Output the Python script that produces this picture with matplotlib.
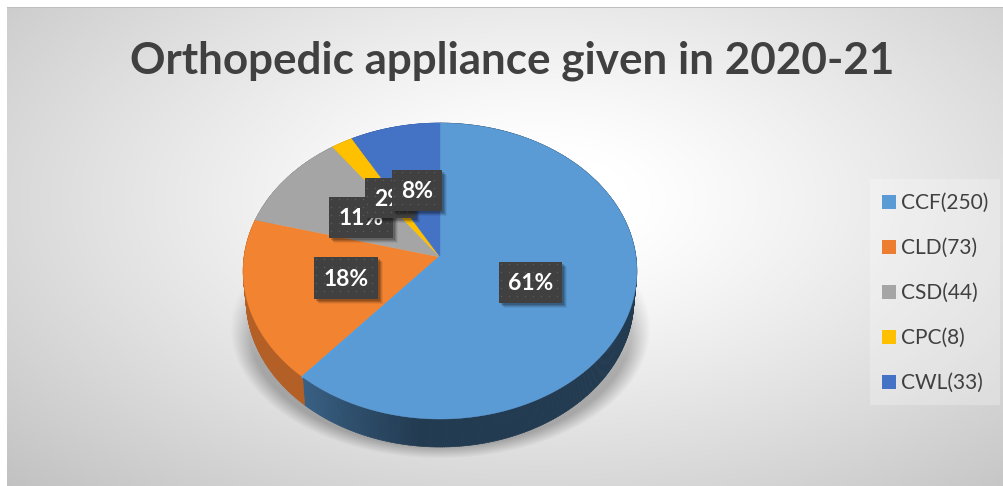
import numpy as np
import matplotlib
matplotlib.use('Agg')
import matplotlib.pyplot as plt
from matplotlib.patches import Rectangle

categories = ['CCF(250)', 'CLD(73)', 'CSD(44)', 'CPC(8)', 'CWL(33)']
counts = [250, 73, 44, 8, 33]
pct_labels = ['61%', '18%', '11%', '2%', '8%']
colors = ['#5b9bd5', '#ed7d31', '#a5a5a5', '#ffc000', '#4472c4']
top_colors = ['#5b9bd5', '#f18331', '#a5a5a5', '#ffc000', '#4472c4']
title = 'Orthopedic appliance given in 2020-21'

W, H = 1004, 486
CX, CY = 440, 257
A, B, K = 196, 146.7, 0.0946
DEPTH = 28
# label boxes, pixel centre and size
box_pos = [(530.5, 282.5, 63, 41), (346, 278, 64, 42), (361, 217.5, 64, 41),
           (390, 198, 50, 40), (417, 190.5, 50, 41)]

plt.rcParams['font.family'] = ['Lato', 'DejaVu Sans']


# tilted pie: unit circle angle (clockwise from 12 o'clock) to pixels
def project(t):
    x, y = np.sin(t), np.cos(t)
    d = 1 + K * y
    return CX + A * x / d, CY - B * y / d


def project_low(t):
    x, y = project(t)
    return CX + (x - CX) * 0.985, y + DEPTH


def background():
    yy, xx = np.mgrid[0:H, 0:W]
    t = np.hypot((xx - 540) / 540, (yy - 200) / 285) / np.sqrt(2)
    v = 255 - 62 * np.clip((t - 0.12) / 0.88, 0, 1) ** 1.15
    # soft shadow under the pie
    r = np.hypot((xx - CX) / 210, (yy - 328) / 130)
    s = np.clip((1.0 - r) / 0.09, 0, 1)
    s = s * np.clip((yy - 240) / 120, 0, 1)
    s[yy > 458] = 0
    v = v * (1 - 0.27 * s)
    img = np.dstack([v, v, v]) / 255
    img[:8, :] = 1
    img[8, :] = 0.75
    img[:, :7] = 1
    return img


def shade(hex_col, f):
    return tuple(np.array(matplotlib.colors.to_rgb(hex_col)) * f)


fig = plt.figure(figsize=(W / 100, H / 100), dpi=100)
ax = fig.add_axes([0, 0, 1, 1])
ax.imshow(background(), extent=(0, W, H, 0), aspect='auto', zorder=0)
ax.set_xlim(0, W)
ax.set_ylim(H, 0)
ax.axis('off')

fracs = np.array(counts) / sum(counts)
edges = np.concatenate([[0], np.cumsum(fracs)]) * 2 * np.pi

# side wall first, only the front part shows
for i in range(len(counts)):
    ts = np.arange(edges[i], edges[i + 1], 0.01)
    for t in ts:
        pair = np.array([t, t + 0.012])
        x1, y1 = project(pair)
        x2, y2 = project_low(pair)
        if i == 0:
            # dark on the right, lighter toward the orange edge
            f = 0.38 + 0.24 * np.clip((t - np.pi * 1.03) / 0.6, 0, 1)
        else:
            f = 0.76
        c = shade(colors[i], f)
        ax.fill([x1[0], x1[1], x2[1], x2[0]], [y1[0], y1[1], y2[1], y2[0]],
                color=c, lw=0.4, zorder=2)

# top surface
for i in range(len(counts)):
    ts = np.linspace(edges[i], edges[i + 1], 200)
    x, y = project(ts)
    ax.fill(np.r_[CX, x], np.r_[CY, y], color=top_colors[i], lw=0.3, zorder=3)
x, y = project(np.array([edges[1]]))
ax.plot([CX, x[0]], [CY, y[0]], color='#4f9fe6', lw=1.6, zorder=4)

# data labels
for n, (lab, (bx, by, bw, bh)) in enumerate(zip(pct_labels, box_pos)):
    z = 5 + n
    for off, al in [(5, 0.06), (4, 0.1), (3, 0.14), (2, 0.16)]:
        ax.add_patch(Rectangle((bx - bw / 2 + off, by - bh / 2 + off), bw, bh,
                               color='black', alpha=al, lw=0, zorder=z))
    ax.add_patch(Rectangle((bx - bw / 2, by - bh / 2), bw, bh, color='#404040', lw=0, zorder=z))
    gx, gy = np.meshgrid(np.arange(bx - bw / 2 + 2, bx + bw / 2, 8), np.arange(by - bh / 2 + 2, by + bh / 2, 8))
    ax.plot(gx.ravel(), gy.ravel(), ls='', marker='o', ms=1.0, mew=0, color='#5c5c5c', zorder=z)
    ax.text(bx, by + 1, lab, color='white', fontsize=16.5, fontweight='bold', ha='center', va='center', zorder=z)

ax.text(512, 61, title, color='#404040', fontsize=31.7, fontweight='bold', ha='center', va='center', zorder=20)

# legend
ax.add_patch(Rectangle((870, 179), 130, 226, color='white', alpha=0.25, lw=0, zorder=15))
for i, name in enumerate(categories):
    ly = 202 + i * 45
    ax.add_patch(Rectangle((882, ly - 7), 14, 14, color=colors[i], lw=0, zorder=16))
    ax.text(901.5, ly + 1, name, color='#404040', fontsize=15, ha='left', va='center', zorder=16)

fig.savefig('out.png', dpi=100)
